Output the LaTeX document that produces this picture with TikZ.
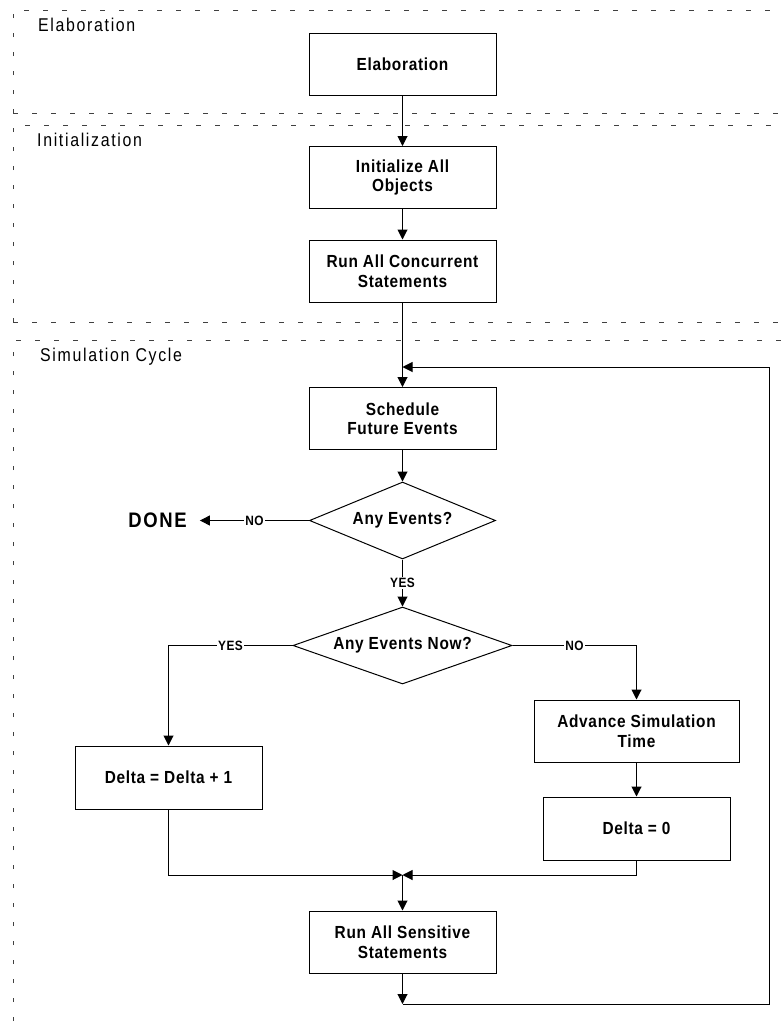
\documentclass[tikz,border=0pt]{standalone}
\usepackage{fontspec}
\setmainfont{Liberation Sans}
\newfontfamily\boxfont[LetterSpace=4, FakeStretch=0.88]{Liberation Sans}
\newfontfamily\lanefont[LetterSpace=9, FakeStretch=0.86]{Liberation Sans}
\usetikzlibrary{shapes.geometric,arrows.meta}

\tikzset{
  lane/.style={draw=black!75, line width=0.9pt, dash pattern=on 4.5pt off 14.5pt},
  lanetitle/.style={anchor=west, inner sep=0pt, font=\lanefont\fontsize{18.5}{20}\selectfont},
  box/.style={draw, line width=1pt, minimum width=187pt, minimum height=62pt,
    align=center, inner sep=2pt, font=\boxfont\bfseries\fontsize{17.5}{19.5}\selectfont},
  decision/.style={diamond, draw, line width=1pt, inner sep=0pt, aspect=2.6,
    font=\boxfont\bfseries\fontsize{17.5}{19.5}\selectfont},
  flow/.style={line width=1pt, -{Triangle[length=10pt,width=10pt]}},
  tag/.style={fill=white, inner sep=1.5pt, font=\boxfont\bfseries\fontsize{13.5}{14}\selectfont},
  endlabel/.style={inner xsep=13pt, inner ysep=0pt, font=\boxfont\bfseries\addfontfeature{LetterSpace=8}\fontsize{21}{22}\selectfont}
}

\begin{document}
\begin{tikzpicture}[x=1pt, y=-1pt]
\useasboundingbox (0,0) rectangle (781,1028);
\clip (0,0) rectangle (781,1028);

% swimlanes
\draw[lane] (13,113) -- (13,10) -- (800,10);
\draw[lane] (13,113) -- (800,113);
\draw[lane] (13,322) -- (13,125) -- (800,125);
\draw[lane] (13,322) -- (800,322);
\draw[lane] (13,1040) -- (13,340) -- (800,340);

\node[lanetitle] (tElab) at (38,25) {Elaboration};
\node[lanetitle] (tInit) at (37,140) {Initialization};
\node[lanetitle] (tSim)  at (40,357) {Simulation Cycle};

% steps
\node[box] (elab)   at (402.5,64)    {Elaboration};
\node[box] (init)   at (402.5,177.5) {Initialize All\\Objects};
\node[box] (runc)   at (402.5,271)   {Run All Concurrent\\Statements};
\node[box] (sched)  at (402.5,418.5) {Schedule\\Future Events};
\node[decision, minimum width=186pt, minimum height=77pt] (anyev)  at (402.5,520.5) {Any Events?};
\node[endlabel] (done) at (157.5,520.5) {DONE};
\node[decision, minimum width=219pt, minimum height=77pt] (anynow) at (402.5,645.5) {Any Events Now?};
\node[box, minimum height=63pt] (delta1) at (168.5,777.5) {Delta = Delta + 1};
\node[box, minimum width=205pt] (adv)    at (636.5,731)   {Advance Simulation\\Time};
\node[box, minimum height=63pt] (delta0) at (636.5,828.5) {Delta = 0};
\node[box] (sens)   at (402.5,942)   {Run All Sensitive\\Statements};

% flow
\draw[flow] (elab.south) -- (init.north);
\draw[flow] (init.south) -- (runc.north);
\draw[flow] (runc.south) -- (sched.north);
\draw[flow] (sched.south) -- (anyev.north);
\draw[flow] (anyev.west) -- node[tag] {NO} (done.east);
\draw[flow] (anyev.south) -- node[tag] {YES} (anynow.north);
\draw[flow] (anynow.west) -| node[tag, pos=0.25] {YES} (delta1.north);
\draw[flow] (anynow.east) -| node[tag, pos=0.25] {NO} (adv.north);
\draw[flow] (adv.south) -- (delta0.north);

\coordinate (merge) at (402.5,875);
\draw[flow] (delta1.south) |- (merge);
\draw[flow] (delta0.south) |- (merge);
\draw[flow] (merge) -- (sens.north);

% loop back to the start of the cycle
\coordinate (loopB)  at (402.5,1004);
\coordinate (loopBR) at (769,1004);
\coordinate (loopTR) at (769,367);
\coordinate (loopT)  at (402.5,367);
\draw[flow] (sens.south) -- (loopB);
\draw[flow] (loopB) -- (loopBR) -- (loopTR) -- (loopT);
\end{tikzpicture}
\end{document}
